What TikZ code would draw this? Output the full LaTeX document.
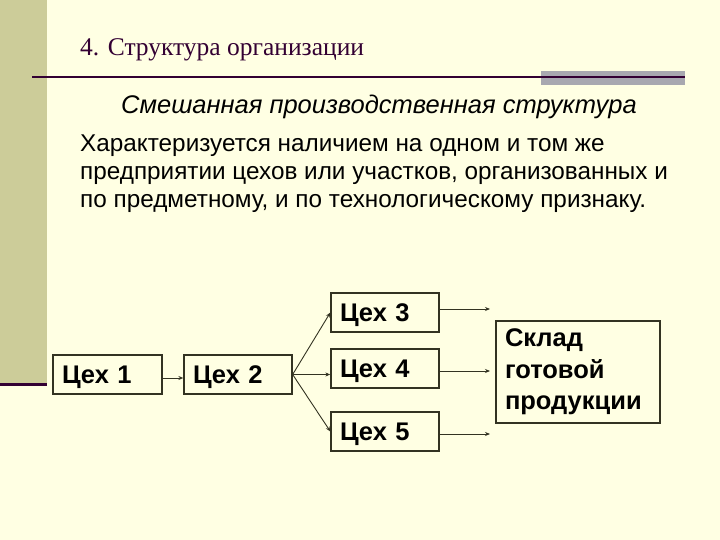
\documentclass[tikz,border=0pt]{standalone}
\usepackage{fontspec}
\setmainfont{Liberation Serif}
\setsansfont{Liberation Sans}
\usetikzlibrary{arrows.meta}
\definecolor{bg}{HTML}{FFFFE3}
\definecolor{side}{HTML}{CCCC99}
\definecolor{rule}{HTML}{330033}
\definecolor{grayrect}{HTML}{A8A8B0}
\definecolor{edge}{HTML}{333322}
\tikzset{
  box/.style={draw=edge, line width=1.3bp, fill=bg, inner xsep=9bp, inner ysep=0pt, align=left, font=\sffamily\bfseries\fontsize{25.5bp}{31.5bp}\selectfont},
  cbox/.style={box, text depth=0pt, minimum height=39bp},
  conn/.style={draw=edge, line width=0.9bp, -{Stealth[length=5bp,width=4bp]}},
  ptext/.style={anchor=base west, inner sep=0pt, font=\sffamily\fontsize{24.3bp}{28bp}\selectfont},
}
\begin{document}
\begin{tikzpicture}[x=1bp,y=-1bp]
\useasboundingbox (0,0) rectangle (720,540);
\fill[bg] (0,0) rectangle (720,540);
\fill[side] (0,0) rectangle (47,383);
\fill[rule] (0,382.5) rectangle (47,385.5);
\fill[grayrect] (541,71) rectangle (685,85);
\draw[rule, line width=2bp] (32,77) -- (685,77);
\node[anchor=base west, inner sep=0pt, text=rule, font=\fontsize{25.5bp}{30bp}\selectfont] (title) at (80,56) {4. Структура организации};
\node[anchor=base, inner sep=0pt, font=\sffamily\itshape\fontsize{25.5bp}{30bp}\selectfont] (sub) at (379,114) {Смешанная производственная структура};
\node[ptext] (p1) at (80,152) {Характеризуется наличием на одном и том же};
\node[ptext] (p2) at (80,180) {предприятии цехов или участков, организованных и};
\node[ptext] (p3) at (80,208) {по предметному, и по технологическому признаку.};
% boxes
\node[cbox, minimum width=109bp, text width=91bp] (c1) at (107.5,374.5) {Цех 1};
\node[cbox, minimum width=108bp, text width=90bp] (c2) at (238,374.5) {Цех 2};
\node[cbox, minimum width=108bp, text width=90bp] (c3) at (385,312.5) {Цех 3};
\node[cbox, minimum width=108bp, text width=90bp] (c4) at (385,368.5) {Цех 4};
\node[cbox, minimum width=108bp, text width=90bp] (c5) at (385,431.5) {Цех 5};
\node[box, minimum width=164bp, minimum height=102bp, text width=146bp] (sk) at (578,372) {Склад\\готовой\\продукции};
% connectors
\coordinate (o2) at (c2.east);
\coordinate (e3) at (490,309);
\coordinate (e4) at (490,371);
\coordinate (e5) at (490,434);
\draw[conn] (c1.east |- 0,378) -- (c2.west |- 0,378);
\draw[conn] (o2) -- (c3.west);
\draw[conn] (o2) -- (c4.west |- o2);
\draw[conn] (o2) -- (c5.west);
\draw[conn] (c3.east |- e3) -- (e3);
\draw[conn] (c4.east |- e4) -- (e4);
\draw[conn] (c5.east |- e5) -- (e5);
\end{tikzpicture}
\end{document}
